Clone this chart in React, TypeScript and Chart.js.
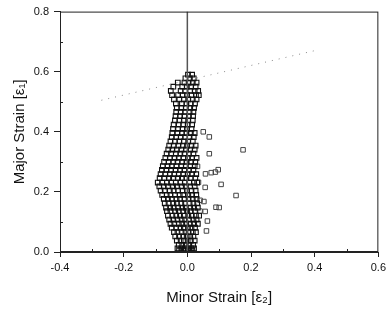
import React, { useEffect, useRef } from "react";
import { Chart, registerables } from "chart.js";

Chart.register(...registerables);

// Axis ranges and tick labels
const xMin = -0.4;
const xMax = 0.6;
const yMin = 0.0;
const yMax = 0.8;
const xTickStep = 0.2;
const yTickStep = 0.2;
const xMinorTicks = [-0.3, -0.1, 0.1, 0.3, 0.5];
const yMinorTicks = [0.1, 0.3, 0.5, 0.7];

const xTitle = "Minor Strain [ε₂]";
const yTitle = "Major Strain [ε₁]";

// Dense cloud of measured strains, by major-strain level
const cloudLevels = [
  0.005, 0.012, 0.024, 0.038, 0.052, 0.066, 0.081, 0.094, 0.108, 0.121, 0.136,
  0.148, 0.162, 0.177, 0.19, 0.204, 0.218, 0.231, 0.246, 0.259, 0.273, 0.286,
  0.3, 0.313, 0.327, 0.341, 0.354, 0.368, 0.382, 0.396, 0.41, 0.424, 0.438,
  0.452, 0.466, 0.48, 0.494, 0.508, 0.522, 0.536, 0.55, 0.564, 0.578, 0.59,
];
const cloudMinor = [
  [-0.026, -0.013, -0.004, 0.007, 0.016],
  [-0.031, -0.019, -0.008, 0.003, 0.013, 0.021],
  [-0.027, -0.016, -0.005, 0.006, 0.018],
  [-0.033, -0.021, -0.011, 0.001, 0.011, 0.023],
  [-0.038, -0.026, -0.013, -0.002, 0.009, 0.019],
  [-0.042, -0.031, -0.018, -0.006, 0.004, 0.017, 0.027],
  [-0.049, -0.035, -0.022, -0.011, 0.002, 0.013, 0.024],
  [-0.053, -0.041, -0.027, -0.016, -0.004, 0.008, 0.021, 0.033],
  [-0.057, -0.044, -0.031, -0.018, -0.007, 0.005, 0.019, 0.029],
  [-0.061, -0.047, -0.035, -0.023, -0.011, 0.003, 0.014, 0.027, 0.037],
  [-0.064, -0.053, -0.038, -0.027, -0.013, -0.001, 0.011, 0.024],
  [-0.067, -0.054, -0.043, -0.029, -0.016, -0.005, 0.009, 0.021, 0.033],
  [-0.071, -0.059, -0.044, -0.033, -0.019, -0.007, 0.007, 0.019, 0.031],
  [-0.074, -0.061, -0.049, -0.034, -0.023, -0.009, 0.004, 0.017, 0.029],
  [-0.079, -0.065, -0.053, -0.039, -0.024, -0.013, 0.003, 0.015, 0.028],
  [-0.084, -0.071, -0.055, -0.043, -0.029, -0.015, -0.001, 0.013, 0.026],
  [-0.088, -0.074, -0.061, -0.045, -0.033, -0.017, -0.005, 0.009, 0.023],
  [-0.093, -0.079, -0.064, -0.051, -0.036, -0.022, -0.008, 0.006, 0.021, 0.031],
  [-0.087, -0.073, -0.057, -0.045, -0.029, -0.017, -0.003, 0.011, 0.025],
  [-0.084, -0.069, -0.055, -0.041, -0.027, -0.013, 0.001, 0.015, 0.028],
  [-0.08, -0.066, -0.051, -0.037, -0.023, -0.009, 0.005, 0.019],
  [-0.077, -0.062, -0.049, -0.034, -0.019, -0.005, 0.009, 0.023],
  [-0.073, -0.059, -0.044, -0.031, -0.016, -0.003, 0.012, 0.025],
  [-0.069, -0.055, -0.04, -0.027, -0.012, 0.002, 0.015, 0.029],
  [-0.065, -0.051, -0.036, -0.022, -0.009, 0.005, 0.019],
  [-0.06, -0.047, -0.033, -0.019, -0.004, 0.009, 0.023],
  [-0.057, -0.043, -0.028, -0.014, -0.001, 0.013, 0.026],
  [-0.053, -0.039, -0.025, -0.011, 0.003, 0.017],
  [-0.049, -0.035, -0.021, -0.007, 0.007, 0.02],
  [-0.047, -0.031, -0.017, -0.003, 0.011, 0.023],
  [-0.045, -0.029, -0.015, -0.001, 0.013],
  [-0.043, -0.027, -0.013, 0.001, 0.015],
  [-0.039, -0.025, -0.011, 0.003, 0.017],
  [-0.037, -0.023, -0.009, 0.005, 0.018],
  [-0.035, -0.021, -0.007, 0.007, 0.019],
  [-0.033, -0.019, -0.005, 0.009, 0.021],
  [-0.036, -0.017, -0.003, 0.011, 0.024],
  [-0.042, -0.025, -0.011, 0.003, 0.017, 0.029],
  [-0.048, -0.029, -0.015, -0.001, 0.013, 0.027, 0.036],
  [-0.052, -0.021, -0.007, 0.009, 0.023, 0.034],
  [-0.044, -0.016, -0.002, 0.012, 0.026],
  [-0.03, -0.009, 0.004, 0.017, 0.029],
  [-0.006, 0.008, 0.02],
  [0.002, 0.015],
];

// Scattered points to the right of the cloud
const outlierMinor = [
  0.05, 0.069, 0.175, 0.069, 0.032, 0.097, 0.075, 0.088, 0.057, 0.035, 0.106,
  0.056, 0.153, 0.04, 0.052, 0.09, 0.1, 0.04, 0.056, 0.063, 0.06,
];
const outlierMajor = [
  0.4, 0.383, 0.34, 0.327, 0.285, 0.274, 0.264, 0.266, 0.26, 0.232, 0.225,
  0.215, 0.188, 0.172, 0.168, 0.149, 0.148, 0.136, 0.135, 0.103, 0.07,
];

// Plane-strain vertical line and forming-limit dotted line
const verticalLineX = [0.0, 0.0];
const verticalLineY = [0.0, 0.8];
const limitLineX = [-0.27, 0.4];
const limitLineY = [0.505, 0.67];

const TICK_FONT = { family: "'Liberation Sans', Arial, sans-serif", size: 11 };
const TITLE_FONT = { family: "'Liberation Sans', Arial, sans-serif", size: 15 };

function fmt(v: number): string {
  if (Math.abs(v) < 1e-9) return "0.0";
  return v.toFixed(1);
}

const framePlugin = {
  id: "frameAndMinor",
  afterDatasetsDraw(chart: any) {
    const { ctx, chartArea, scales } = chart;
    const { left, right, top, bottom } = chartArea;
    ctx.save();
    ctx.strokeStyle = "#222";
    ctx.lineWidth = 1;
    ctx.strokeRect(left + 0.5, top + 0.5, right - left - 1, bottom - top - 1);
    ctx.beginPath();
    xMinorTicks.forEach((v) => {
      const px = Math.round(scales.x.getPixelForValue(v)) + 0.5;
      ctx.moveTo(px, bottom);
      ctx.lineTo(px, bottom - 3);
    });
    yMinorTicks.forEach((v) => {
      const py = Math.round(scales.y.getPixelForValue(v)) + 0.5;
      ctx.moveTo(left, py);
      ctx.lineTo(left + 3, py);
    });
    ctx.stroke();
    ctx.restore();
  },
};

export default function App() {
  const canvasRef = useRef<HTMLCanvasElement | null>(null);

  useEffect(() => {
    if (!canvasRef.current) return;

    const cloudData: { x: number; y: number }[] = [];
    cloudLevels.forEach((y, i) => {
      cloudMinor[i].forEach((x) => cloudData.push({ x, y }));
    });
    const outlierData = outlierMinor.map((x, i) => ({ x, y: outlierMajor[i] }));
    const vData = verticalLineX.map((x, i) => ({ x, y: verticalLineY[i] }));
    const lData = limitLineX.map((x, i) => ({ x, y: limitLineY[i] }));

    const chart = new Chart(canvasRef.current, {
      type: "scatter",
      data: {
        datasets: [
          {
            data: vData,
            showLine: true,
            borderColor: "#555",
            borderWidth: 1.5,
            pointRadius: 0,
          },
          {
            data: lData,
            showLine: true,
            borderColor: "#888",
            borderWidth: 1,
            borderDash: [1, 6],
            pointRadius: 0,
          },
          {
            data: cloudData,
            pointStyle: "rect",
            pointRadius: 3.3,
            borderColor: "#111",
            borderWidth: 1.1,
            backgroundColor: "rgba(255,255,255,0)",
          },
          {
            data: outlierData,
            pointStyle: "rect",
            pointRadius: 3.2,
            borderColor: "#444",
            borderWidth: 1,
            backgroundColor: "rgba(255,255,255,0)",
          },
        ],
      },
      options: {
        animation: false,
        responsive: true,
        maintainAspectRatio: false,
        layout: { padding: { top: 10, right: 8, left: 0, bottom: 0 } },
        plugins: {
          legend: { display: false },
          tooltip: { enabled: false },
        },
        scales: {
          x: {
            type: "linear",
            min: xMin,
            max: xMax,
            afterFit: (s: any) => {
              s.height = 66;
            },
            ticks: {
              stepSize: xTickStep,
              callback: (v: any) => fmt(Number(v)),
              font: TICK_FONT,
              color: "#111",
              padding: 4,
              maxRotation: 0,
            },
            grid: {
              drawOnChartArea: false,
              drawTicks: true,
              tickLength: 5,
              color: "#222",
            },
            border: { display: true, color: "#222", width: 1 },
            title: {
              display: true,
              text: xTitle,
              font: TITLE_FONT,
              color: "#111",
              padding: { top: 4, bottom: 11 },
            },
          },
          y: {
            type: "linear",
            min: yMin,
            max: yMax,
            afterFit: (s: any) => {
              s.width = 60;
            },
            ticks: {
              stepSize: yTickStep,
              callback: (v: any) => fmt(Number(v)),
              font: TICK_FONT,
              color: "#111",
              padding: 5,
            },
            grid: {
              drawOnChartArea: false,
              drawTicks: true,
              tickLength: 6,
              color: "#222",
            },
            border: { display: true, color: "#222", width: 1 },
            title: {
              display: true,
              text: yTitle,
              font: TITLE_FONT,
              color: "#111",
              padding: { top: 11, bottom: 0 },
            },
          },
        },
      },
      plugins: [framePlugin],
    });

    return () => chart.destroy();
  }, []);

  return (
    <div
      style={{
        position: "fixed",
        left: 0,
        top: 0,
        width: 390,
        height: 318,
        background: "#fff",
      }}
    >
      <canvas ref={canvasRef} />
    </div>
  );
}
